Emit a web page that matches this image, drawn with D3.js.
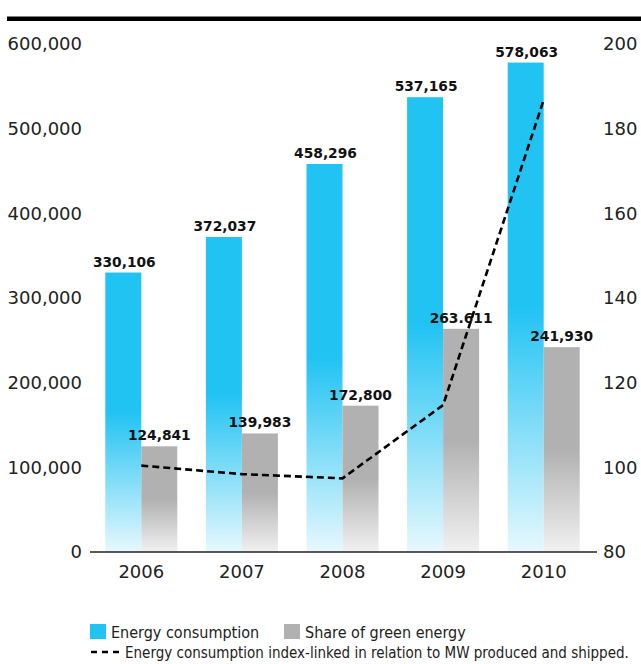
<!DOCTYPE html>
<html>
<head>
<meta charset="utf-8">
<script src="https://cdn.jsdelivr.net/npm/d3@7"></script>
<style>
  html, body { margin: 0; padding: 0; background: #fff; }
  svg { display: block; }
  .tick text { font-family: "DejaVu Sans", sans-serif; font-size: 18px; fill: #222; }
  .val { font-family: "DejaVu Sans", sans-serif; font-weight: bold; font-size: 13.8px; fill: #111; }
  .legend { font-family: "DejaVu Sans Condensed", "DejaVu Sans", sans-serif; font-stretch: condensed; font-size: 15px; fill: #222; }
  .legend.big { font-size: 16px; }
</style>
</head>
<body>
<svg id="chart" width="641" height="664"></svg>
<script>
// Years on the x axis
const years = ["2006", "2007", "2008", "2009", "2010"];
// Energy consumption (bars, left axis)
const energyConsumption = [330106, 372037, 458296, 537165, 578063];
// Share of green energy (bars, left axis)
const greenShare = [124841, 139983, 172800, 263611, 241930];
// Printed value labels
const consumptionLabels = ["330,106", "372,037", "458,296", "537,165", "578,063"];
const greenLabels = ["124,841", "139,983", "172,800", "263.611", "241,930"];
// Index-linked energy consumption (dashed line, right axis)
const consumptionIndex = [100.4, 98.4, 97.4, 114.7, 186.8];
// Axis ticks
const leftTicks = [0, 100000, 200000, 300000, 400000, 500000, 600000];
const rightTicks = [80, 100, 120, 140, 160, 180, 200];
const legendItems = ["Energy consumption", "Share of green energy"];
const lineLegend = "Energy consumption index-linked in relation to MW produced and shipped.";

const svg = d3.select("#chart");
const baseY = 552, topY = 44;

const x = d3.scaleBand().domain(years).range([91, 594]);
const yL = d3.scaleLinear().domain([0, 600000]).range([baseY, topY]);
const yR = d3.scaleLinear().domain([80, 200]).range([baseY, topY]);
const barW = 36;

// per-bar gradients: solid over the upper half, fading out toward the baseline
const defs = svg.append("defs");
function fade(id, solid, light) {
  const g = defs.append("linearGradient").attr("id", id)
    .attr("x1", 0).attr("x2", 0).attr("y1", 0).attr("y2", 1);
  g.append("stop").attr("offset", 0).attr("stop-color", solid);
  g.append("stop").attr("offset", 0.5).attr("stop-color", solid);
  g.append("stop").attr("offset", 1).attr("stop-color", light);
}
fade("gBlue", "#21c3f3", "#e7f8fd");
fade("gGray", "#b1b1b1", "#f1f1f1");

// top rule
svg.append("rect").attr("x", 7).attr("y", 16.5).attr("width", 634).attr("height", 4.5).attr("fill", "#000");

const cx = d => x(d) + x.bandwidth() / 2;

// bars
svg.append("g").selectAll("rect").data(years).join("rect")
  .attr("x", d => cx(d) - barW)
  .attr("y", (d, i) => yL(energyConsumption[i]))
  .attr("width", barW)
  .attr("height", (d, i) => baseY - yL(energyConsumption[i]))
  .attr("fill", "url(#gBlue)");
svg.append("g").selectAll("rect").data(years).join("rect")
  .attr("x", d => cx(d))
  .attr("y", (d, i) => yL(greenShare[i]))
  .attr("width", barW)
  .attr("height", (d, i) => baseY - yL(greenShare[i]))
  .attr("fill", "url(#gGray)");

// value labels
svg.append("g").selectAll("text").data(years).join("text")
  .attr("class", "val").attr("text-anchor", "middle")
  .attr("x", d => cx(d) - barW / 2 + 1)
  .attr("y", (d, i) => yL(energyConsumption[i]) - 6)
  .text((d, i) => consumptionLabels[i]);
svg.append("g").selectAll("text").data(years).join("text")
  .attr("class", "val").attr("text-anchor", "middle")
  .attr("x", d => cx(d) + barW / 2)
  .attr("y", (d, i) => yL(greenShare[i]) - 6)
  .text((d, i) => greenLabels[i]);

// axes
const fmt = d3.format(",");
svg.append("g").attr("transform", "translate(82,0)")
  .call(d3.axisLeft(yL).tickValues(leftTicks).tickSize(0).tickPadding(0).tickFormat(fmt))
  .call(g => g.select(".domain").remove());
svg.append("g").attr("transform", "translate(603,0)")
  .call(d3.axisRight(yR).tickValues(rightTicks).tickSize(0).tickPadding(0))
  .call(g => g.select(".domain").remove());
svg.append("g").attr("transform", `translate(0,${baseY})`)
  .call(d3.axisBottom(x).tickSize(0).tickPadding(13))
  .call(g => g.select(".domain").remove());
svg.selectAll(".tick text").attr("fill", "#222");

// baseline
svg.append("line").attr("x1", 90).attr("x2", 597).attr("y1", baseY).attr("y2", baseY)
  .attr("stroke", "#222").attr("stroke-width", 1.6);

// dashed index line
const line = d3.line().x((d, i) => cx(years[i])).y(d => yR(d));
svg.append("path").datum(consumptionIndex).attr("d", line)
  .attr("fill", "none").attr("stroke", "#000").attr("stroke-width", 2.6)
  .attr("stroke-dasharray", "7,4");

// legend
const lg = svg.append("g");
lg.append("rect").attr("x", 90).attr("y", 624).attr("width", 16).attr("height", 15).attr("fill", "#21c3f3");
lg.append("text").attr("class", "legend big").attr("x", 111).attr("y", 638).text(legendItems[0]);
lg.append("rect").attr("x", 284).attr("y", 624).attr("width", 16).attr("height", 15).attr("fill", "#b1b1b1");
lg.append("text").attr("class", "legend big").attr("x", 305).attr("y", 638).text(legendItems[1]);
lg.append("line").attr("x1", 91).attr("x2", 123).attr("y1", 652).attr("y2", 652)
  .attr("stroke", "#000").attr("stroke-width", 2.6).attr("stroke-dasharray", "6,5");
lg.append("text").attr("class", "legend").attr("x", 125).attr("y", 658).text(lineLegend);
</script>
</body>
</html>
